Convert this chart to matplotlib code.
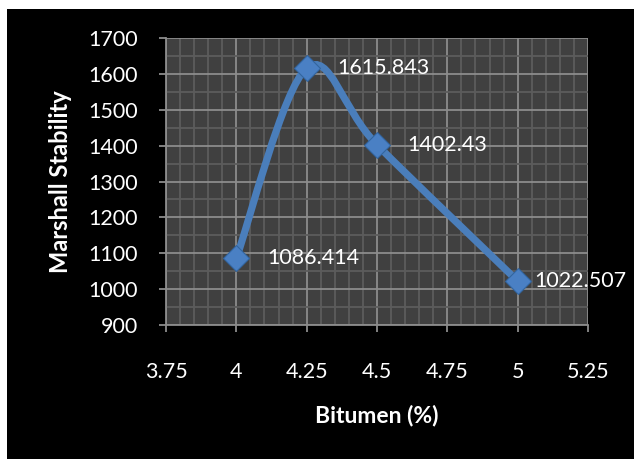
import numpy as np
import matplotlib.pyplot as plt
from matplotlib.path import Path
from matplotlib.patches import PathPatch, Rectangle
from matplotlib.ticker import MultipleLocator

bitumen = [4.0, 4.25, 4.5, 5.0]
stability = [1086.414, 1615.843, 1402.43, 1022.507]
labels = ["1086.414", "1615.843", "1402.43", "1022.507"]

plt.rcParams['font.family'] = ['Lato', 'DejaVu Sans']

fig = plt.figure(figsize=(6.34, 4.59), dpi=100)
fig.patch.set_facecolor('white')
# black chart area with white margin at top/left
fig.patches.append(Rectangle((7 / 634, 0), 1, 1 - 9 / 459, transform=fig.transFigure,
                             facecolor='black', edgecolor='none', zorder=-10))

ax = fig.add_axes([166 / 634, 1 - 325 / 459, 422 / 634, 287 / 459])
ax.set_facecolor('#404040')

ax.set_xlim(3.75, 5.25)
ax.set_ylim(900, 1700)
ax.xaxis.set_major_locator(MultipleLocator(0.25))
ax.xaxis.set_minor_locator(MultipleLocator(0.05))
ax.yaxis.set_major_locator(MultipleLocator(100))
ax.yaxis.set_minor_locator(MultipleLocator(50))
ax.set_xticks([3.75, 4, 4.25, 4.5, 4.75, 5, 5.25])
ax.set_xticklabels(["3.75", "4", "4.25", "4.5", "4.75", "5", "5.25"])

ax.grid(which='major', color='#8c8c8c', linewidth=1.3)
ax.grid(which='minor', color='#5c5c5c', linewidth=1.3)
ax.set_axisbelow(True)

for s in ['top', 'right']:
    ax.spines[s].set_visible(False)
for s in ['left', 'bottom']:
    ax.spines[s].set_color('#8c8c8c')
    ax.spines[s].set_linewidth(1.3)

ax.tick_params(which='major', direction='out', length=5, color='#8c8c8c', width=1.3,
               labelcolor='white', labelsize=15.5)
ax.tick_params(which='minor', length=0)
ax.tick_params(axis='x', pad=22)
ax.tick_params(axis='y', pad=15)

# smooth line (Excel style bezier through the points)
x = np.array(bitumen)
y = np.array(stability)
n = len(x)
verts = [(x[0], y[0])]
codes = [Path.MOVETO]
for i in range(n - 1):
    x0, y0 = (x[i - 1], y[i - 1]) if i > 0 else (x[i], y[i])
    x3, y3 = (x[i + 2], y[i + 2]) if i + 2 < n else (x[i + 1], y[i + 1])
    c1 = (x[i] + (x[i + 1] - x0) / 6, y[i] + (y[i + 1] - y0) / 6)
    c2 = (x[i + 1] - (x3 - x[i]) / 6, y[i + 1] - (y3 - y[i]) / 6)
    verts += [c1, c2, (x[i + 1], y[i + 1])]
    codes += [Path.CURVE4] * 3
ax.add_patch(PathPatch(Path(verts, codes), facecolor='none', edgecolor='#4a7ebb',
                       linewidth=5.2, capstyle='round', zorder=3))

ax.plot(bitumen, stability, linestyle='none', marker='D', markersize=13,
        markerfacecolor='#4a80c4', markeredgecolor='#33659f', markeredgewidth=0.8, zorder=4)

for i, (bx, st, lb) in enumerate(zip(bitumen, stability, labels)):
    off = 12 if i == n - 1 else 22
    ax.annotate(lb, (bx, st), xytext=(off, 0), textcoords='offset points',
                color='white', fontsize=15.5, va='center', ha='left', zorder=6,
                annotation_clip=False)

ax.set_xlabel("Bitumen (%)", color='white', fontsize=16.5, fontweight='bold', labelpad=16)
ax.set_ylabel("Marshall Stability", color='white', fontsize=17, fontweight='bold', labelpad=12)

fig.savefig("out.png", dpi=100, facecolor=fig.get_facecolor())
